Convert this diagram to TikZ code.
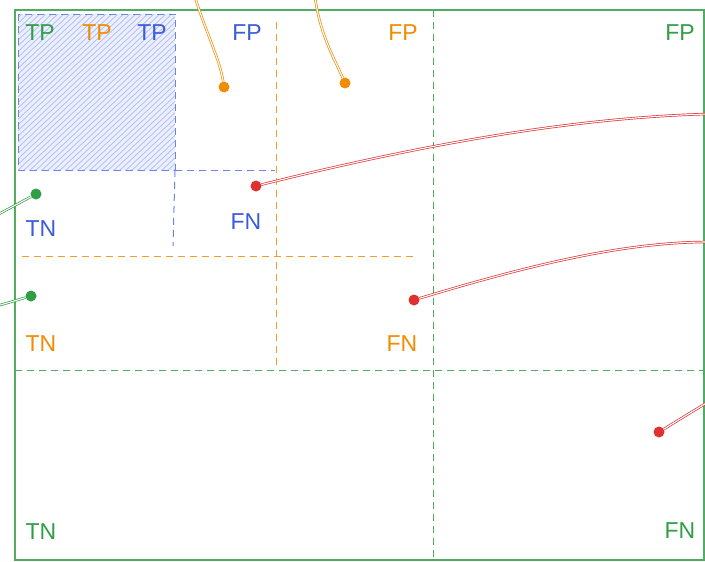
\documentclass[tikz,border=0pt]{standalone}
\usepackage{fontspec}
\setmainfont{Liberation Sans}
\definecolor{grn}{HTML}{2F9E44}
\definecolor{org}{HTML}{F08C00}
\definecolor{blu}{HTML}{3B5BDB}
\definecolor{rd}{HTML}{E03131}
\definecolor{hatch}{HTML}{B4C2FC}
\begin{document}
\begin{tikzpicture}[x=1pt,y=-1pt,font=\fontsize{23}{23}\selectfont,
  dsh/.style={dash pattern=on 7pt off 5pt,line width=1pt},
  lbl/.style={inner sep=0pt},
  dot/.style={circle,fill=#1,inner sep=0pt,minimum size=11pt},
  wire/.style={draw=#1,line width=.7pt,double=white,double distance=1.1pt}]
 \useasboundingbox (0,0) rectangle (705,562);
 \fill[blu!9] (18,14) rectangle (175,170);
 \begin{scope}
  \clip (18,14) rectangle (175,170);
  \foreach \i in {-170,-164,...,180}
   \draw[hatch,line width=.9pt] (\i,172)--(\i+170,12);
 \end{scope}
 \draw[blu!75,dsh] (18,14) rectangle (175,170);
 \draw[blu!75,dsh] (175,170)--(173,246);
 \draw[blu!75,dsh] (175,170)--(275,170);
 \draw[org!85,dsh] (276,22)--(276,366);
 \draw[org!85,dsh] (22,256)--(418,256);
 \draw[grn!85,dsh] (433,10)--(433,560);
 \draw[grn!85,dsh] (15,370)--(704,370);
 \draw[grn!85,line width=1.4pt] (15,10) rectangle (704,560);
 \foreach \n/\x/\y/\c/\t in {tpG/40/33/grn/TP,tpO/97/33/org/TP,tpB/152/33/blu/TP,
   fpB/247/33/blu/FP,fpO/403/33/org/FP,fpG/680/33/grn/FP,
   tnB/41/229/blu/TN,fnB/246/222/blu/FN,tnO/41/344/org/TN,
   fnO/402/344/org/FN,tnG/41/532/grn/TN,fnG/680/531/grn/FN}
  \node[lbl,text=\c] (\n) at (\x,\y) {\t};
 \node[dot=org] (dO1) at (224,87) {};
 \node[dot=org] (dO2) at (345,83) {};
 \node[dot=rd] (dR1) at (256,186) {};
 \node[dot=rd] (dR2) at (414,300) {};
 \node[dot=rd] (dR3) at (659,432) {};
 \node[dot=grn] (dG1) at (36,194) {};
 \node[dot=grn] (dG2) at (31,296) {};
 \coordinate (sO1) at (195,-3);
 \coordinate (sO2) at (315,-3);
 \coordinate (sR1) at (708,114);
 \coordinate (sR2) at (708,242);
 \coordinate (sR3) at (708,402);
 \coordinate (sG1) at (-3,215);
 \coordinate (sG2) at (-3,306);
 \draw[wire=org] (sO1) .. controls (205,30) and (220,60) .. (dO1);
 \draw[wire=org] (sO2) .. controls (320,35) and (335,60) .. (dO2);
 \draw[wire=rd] (sR1) .. controls (560,118) and (400,150) .. (dR1);
 \draw[wire=rd] (sR2) .. controls (620,242) and (520,268) .. (dR2);
 \draw[wire=rd] (sR3)--(dR3);
 \draw[wire=grn] (sG1)--(dG1);
 \draw[wire=grn] (sG2)--(dG2);
\end{tikzpicture}
\end{document}
